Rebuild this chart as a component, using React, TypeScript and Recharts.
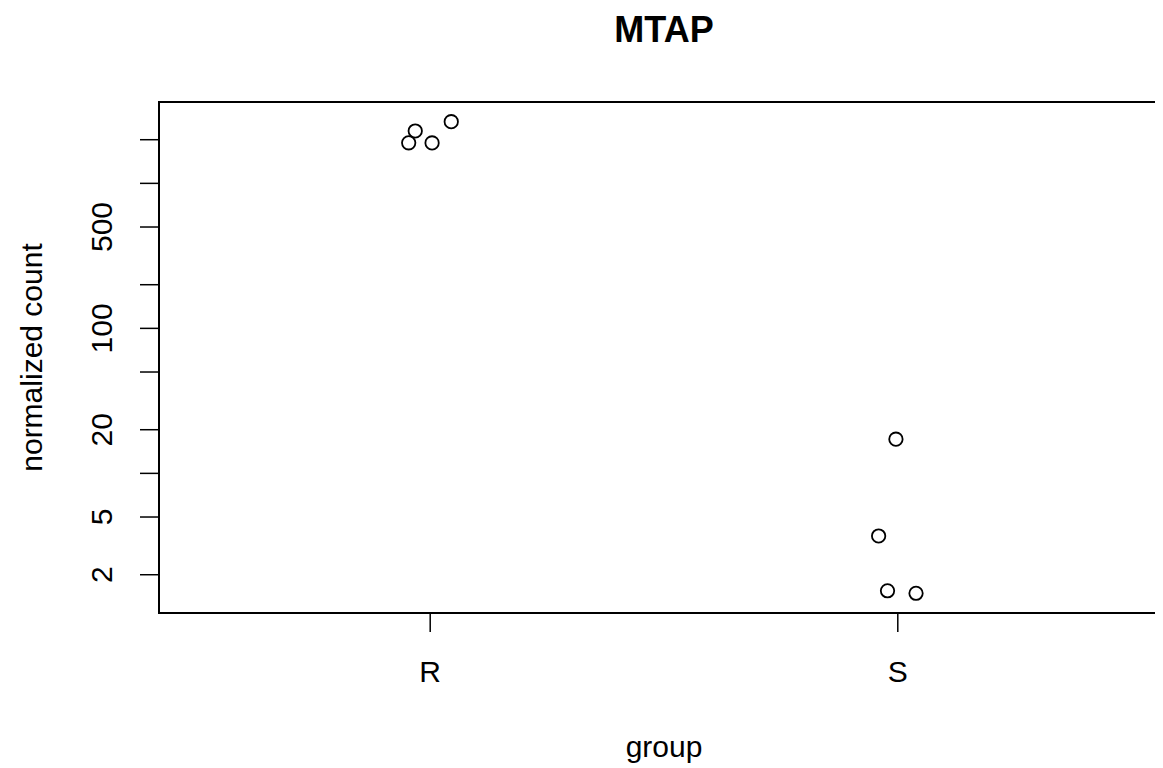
import React from "react";
import {
  ScatterChart,
  Scatter,
  XAxis,
  YAxis,
  ReferenceArea,
  Label,
} from "recharts";

// groups on the x axis and the jittered points
const groups = ["R", "S"];
const rJitter = [0.954, 0.968, 1.004, 1.045];
const rCounts = [1905, 2297, 1900, 2663];
const sJitter = [1.996, 1.959, 1.978, 2.039];
const sCounts = [17.2, 3.7, 1.55, 1.49];

const yTicks = [2, 5, 10, 20, 50, 100, 200, 500, 1000, 2000];
const yLabelled = [2, 5, 20, 100, 500];

const X_DOMAIN: [number, number] = [0.42, 2.58];
const Y_DOMAIN: [number, number] = [1.089, 3640];

const FONT = "'Liberation Sans', Arial, Helvetica, sans-serif";

const points = [
  ...rJitter.map((x, i) => ({ x, count: rCounts[i] })),
  ...sJitter.map((x, i) => ({ x, count: sCounts[i] })),
];

const OpenCircle = (props: any) => (
  <circle
    cx={props.cx}
    cy={props.cy}
    r={6.7}
    fill="none"
    stroke="#000"
    strokeWidth={1.8}
  />
);

const YTick = ({ x, y, payload }: any) => {
  if (!yLabelled.includes(payload.value)) return null;
  const bx = x - 28;
  return (
    <text
      x={bx}
      y={y}
      transform={`rotate(-90, ${bx}, ${y})`}
      textAnchor="middle"
      fontSize={30}
      fontFamily={FONT}
      fill="#000"
    >
      {payload.value}
    </text>
  );
};

const XTick = ({ x, y, payload }: any) => (
  <text
    x={x}
    y={y + 50}
    textAnchor="middle"
    fontSize={30}
    fontFamily={FONT}
    fill="#000"
  >
    {groups[payload.value - 1]}
  </text>
);

export default function App() {
  return (
    <div
      style={{
        position: "relative",
        width: 1155,
        height: 760,
        overflow: "hidden",
        background: "#fff",
      }}
    >
      <ScatterChart
        width={1200}
        height={760}
        margin={{ top: 94, right: 39, bottom: 55, left: 0 }}
      >
        <XAxis
          type="number"
          dataKey="x"
          domain={X_DOMAIN}
          allowDataOverflow
          ticks={[1, 2]}
          tick={<XTick />}
          tickSize={19}
          tickMargin={0}
          height={100}
          stroke="#000"
          tickLine={{ stroke: "#000", strokeWidth: 1.5 }}
          axisLine={false}
        >
          <Label
            content={({ viewBox }: any) => (
              <text
                x={viewBox.x + viewBox.width / 2}
                y={viewBox.y + 144}
                textAnchor="middle"
                fontSize={30}
                fontFamily={FONT}
                fill="#000"
              >
                group
              </text>
            )}
          />
        </XAxis>
        <YAxis
          type="number"
          dataKey="count"
          scale="log"
          domain={Y_DOMAIN}
          allowDataOverflow
          ticks={yTicks}
          tick={<YTick />}
          tickSize={19}
          tickMargin={0}
          width={151}
          stroke="#000"
          tickLine={{ stroke: "#000", strokeWidth: 1.5 }}
          axisLine={false}
          interval={0}
        >
          <Label
            content={({ viewBox }: any) => {
              const cx = 34;
              const cy = viewBox.y + viewBox.height / 2;
              return (
                <text
                  x={cx}
                  y={cy}
                  transform={`rotate(-90, ${cx}, ${cy})`}
                  textAnchor="middle"
                  fontSize={30}
                  fontFamily={FONT}
                  fill="#000"
                >
                  normalized count
                </text>
              );
            }}
          />
        </YAxis>
        <ReferenceArea
          x1={X_DOMAIN[0]}
          x2={X_DOMAIN[1]}
          y1={Y_DOMAIN[0]}
          y2={Y_DOMAIN[1]}
          fill="none"
          fillOpacity={0}
          stroke="#000"
          strokeWidth={2}
          ifOverflow="visible"
        >
          <Label
            content={({ viewBox }: any) => (
              <text
                x={viewBox.x + 505}
                y={34}
                textAnchor="middle"
                fontSize={36}
                fontWeight="bold"
                fontFamily={FONT}
                fill="#000"
              >
                MTAP
              </text>
            )}
          />
        </ReferenceArea>
        <Scatter
          data={points}
          shape={<OpenCircle />}
          isAnimationActive={false}
        />
      </ScatterChart>
    </div>
  );
}
